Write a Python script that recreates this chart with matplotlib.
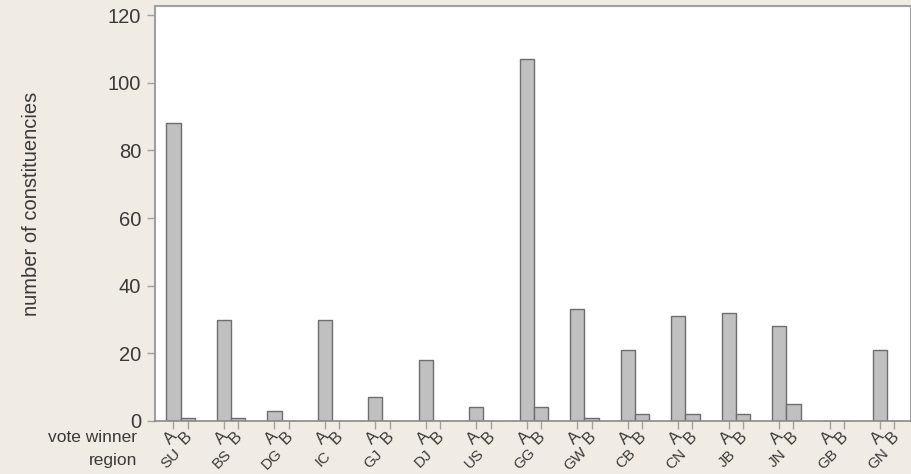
import numpy as np
import matplotlib
matplotlib.use("Agg")
import matplotlib.pyplot as plt
import matplotlib.transforms as mtransforms

# --- data ---
regions = ["SU", "BS", "DG", "IC", "GJ", "DJ", "US", "GG",
           "GW", "CB", "CN", "JB", "JN", "GB", "GN"]
winners = ["A", "B"]
votes_a = [88, 30, 3, 30, 7, 18, 4, 107, 33, 21, 31, 32, 28, 0, 21]
votes_b = [1, 1, 0, 0, 0, 0, 0, 4, 1, 2, 2, 2, 5, 0, 0]
y_ticks = [0, 20, 40, 60, 80, 100, 120]

BG = "#f0ece4"
BAR_FILL = "#c0c0c0"
BAR_EDGE = "#6e6e6e"
SPINE = "#a0a0a0"
TXT = "#3a3a3a"

plt.rcParams["font.family"] = ["Liberation Sans", "DejaVu Sans"]

fig = plt.figure(figsize=(9.12, 4.74), dpi=100, facecolor=BG)
ax = fig.add_axes([0.170, 0.112, 0.829, 0.875])
ax.set_facecolor("white")

x = np.arange(len(regions))
w = 0.28
offs = [-w / 2, w / 2]

ax.bar(x + offs[0], votes_a, width=w, color=BAR_FILL, edgecolor=BAR_EDGE, linewidth=1.0, zorder=2)
ax.bar(x + offs[1], votes_b, width=w, color=BAR_FILL, edgecolor=BAR_EDGE, linewidth=1.0, zorder=2)

ax.set_xlim(-0.505, 14.47)
ax.set_ylim(0, 122.7)

# y axis
ax.set_yticks(y_ticks)
ax.tick_params(axis="y", direction="out", length=6, width=1, color=SPINE,
               labelsize=14.5, labelcolor=TXT, pad=4)

# x ticks at each A/B bar, labels drawn by hand below
tick_pos = np.sort(np.concatenate([x + offs[0], x + offs[1]]))
ax.set_xticks(tick_pos)
ax.set_xticklabels([])
ax.tick_params(axis="x", direction="out", length=6, width=1, color=SPINE)

for side in ["left", "top", "right"]:
    ax.spines[side].set_color(SPINE)
    ax.spines[side].set_linewidth(1.5)
ax.spines["bottom"].set_color("#8a8a8a")
ax.spines["bottom"].set_linewidth(1.2)

trans = mtransforms.blended_transform_factory(ax.transData, ax.transAxes)

# vote winner labels (A / B) and region labels
for i in x:
    for k, lab in enumerate(winners):
        ax.text(i + offs[k] - 0.05, -0.040, lab, transform=trans, rotation=45,
                ha="center", va="center", fontsize=12, color=TXT)
    ax.text(i - 0.18, -0.092, regions[i], transform=trans, rotation=45,
            ha="center", va="center", fontsize=11, color=TXT)

# row headers
fig.text(137 / 912, 1 - 438 / 474, "vote winner", ha="right", va="center",
         fontsize=12.5, color=TXT)
fig.text(137 / 912, 1 - 460 / 474, "region", ha="right", va="center",
         fontsize=12.5, color=TXT)

fig.text(32 / 912, 1 - 204 / 474, "number of constituencies", rotation=90,
         ha="center", va="center", fontsize=14.5, color=TXT)

fig.savefig("out.png", dpi=100, facecolor=BG)
